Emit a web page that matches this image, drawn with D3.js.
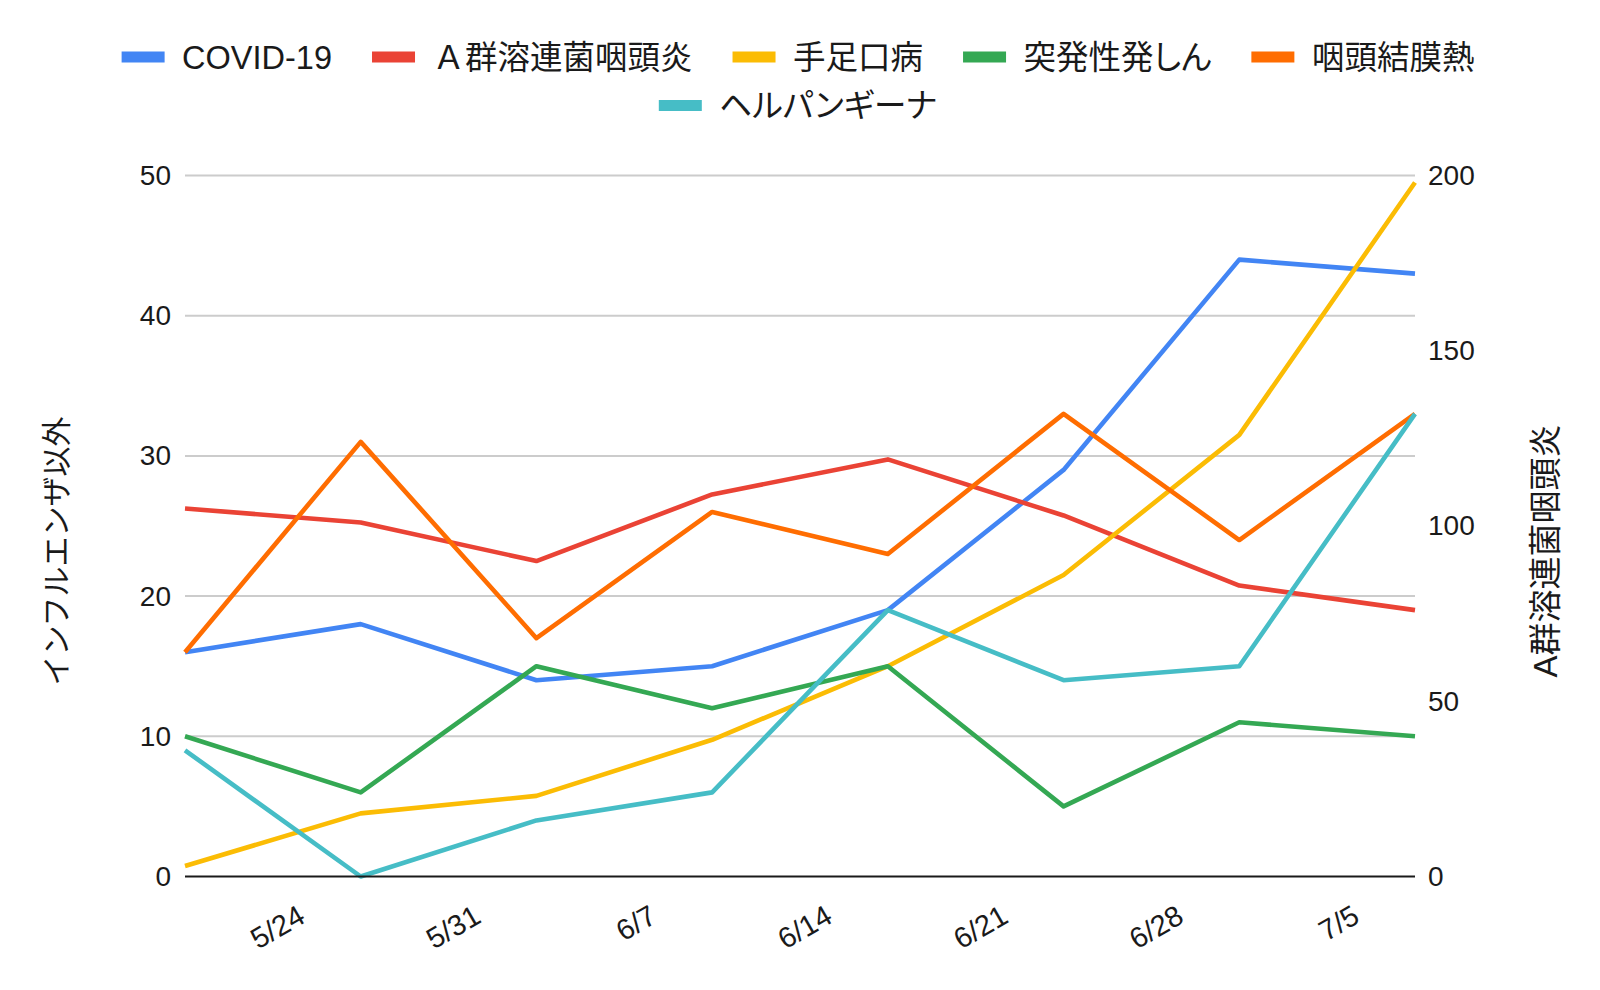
<!DOCTYPE html>
<html>
<head>
<meta charset="utf-8">
<script src="https://cdn.jsdelivr.net/npm/d3@7"></script>
<style>
  html, body { margin: 0; padding: 0; background: #fff; }
  svg { display: block; font-family: "Liberation Sans", Arial, "Noto Sans CJK JP", sans-serif; }
  .kana { font-feature-settings: "palt"; }
</style>
</head>
<body>
<div id="chart"></div>
<script>
// weekly dates of the data points
const dates = ['2023-05-19', '2023-05-26', '2023-06-02', '2023-06-09', '2023-06-16', '2023-06-23', '2023-06-30', '2023-07-07'];
const tickDates = ['2023-05-24', '2023-05-31', '2023-06-07', '2023-06-14', '2023-06-21', '2023-06-28', '2023-07-05'];

// left axis series
const covid = [16, 18, 14, 15, 19, 29, 44, 43];
const toppatsu = [10, 6, 15, 12, 15, 5, 11, 10];
const intoketsumaku = [16, 31, 17, 26, 23, 33, 24, 33];
const herpangina = [9, 0, 4, 6, 19, 14, 15, 33];
// right axis series
const strepA = [105, 101, 90, 109, 119, 103, 83, 76];
const teashikuchi = [3, 18, 23, 39, 60, 86, 126, 198];

const leftTicks = [0, 10, 20, 30, 40, 50];
const rightTicks = [0, 50, 100, 150, 200];

const series = [
  { name: 'COVID-19', values: covid, axis: 'left', color: '#4285F4' },
  { name: 'Ａ群溶連菌咽頭炎', values: strepA, axis: 'right', color: '#EA4335' },
  { name: '手足口病', values: teashikuchi, axis: 'right', color: '#FBBC04' },
  { name: '突発性発しん', values: toppatsu, axis: 'left', color: '#34A853', kana: true },
  { name: '咽頭結膜熱', values: intoketsumaku, axis: 'left', color: '#FF6D01' },
  { name: 'ヘルパンギーナ', values: herpangina, axis: 'left', color: '#46BDC6', kana: true }
];

const W = 1600, H = 990;
const plot = { left: 185, right: 1415, top: 175.5, bottom: 876.5 };
const ink = '#1a1a1a';

const svg = d3.select('#chart').append('svg')
  .attr('width', W).attr('height', H);

const parse = d3.utcParse('%Y-%m-%d');

const x = d3.scaleUtc()
  .domain([parse(dates[0]), parse(dates[dates.length - 1])])
  .range([plot.left, plot.right]);

const yL = d3.scaleLinear().domain([0, 50]).range([plot.bottom, plot.top]);
const yR = d3.scaleLinear().domain([0, 200]).range([plot.bottom, plot.top]);

// gridlines
svg.append('g')
  .selectAll('line')
  .data(leftTicks.filter(d => d !== 0))
  .join('line')
  .attr('x1', plot.left).attr('x2', plot.right)
  .attr('y1', d => yL(d)).attr('y2', d => yL(d))
  .attr('stroke', '#cccccc')
  .attr('stroke-width', 2);

// left axis
const gL = svg.append('g')
  .attr('transform', `translate(${plot.left},0)`)
  .call(d3.axisLeft(yL).tickValues(leftTicks).tickSize(0).tickPadding(14));
gL.select('.domain').remove();
gL.selectAll('text').attr('font-size', 28).attr('fill', ink).attr('font-family', '"Liberation Sans", Arial, sans-serif');

// right axis
const gR = svg.append('g')
  .attr('transform', `translate(${plot.right},0)`)
  .call(d3.axisRight(yR).tickValues(rightTicks).tickSize(0).tickPadding(13));
gR.select('.domain').remove();
gR.selectAll('text').attr('font-size', 28).attr('fill', ink).attr('font-family', '"Liberation Sans", Arial, sans-serif');

// x axis labels (rotated)
const gX = svg.append('g')
  .attr('transform', `translate(0,${plot.bottom})`)
  .call(d3.axisBottom(x).tickValues(tickDates.map(parse)).tickFormat(d3.utcFormat('%-m/%-d')).tickSize(0));
gX.select('.domain').remove();
gX.selectAll('text')
  .attr('font-size', 29)
  .attr('fill', ink)
  .attr('font-family', '"Liberation Sans", Arial, sans-serif')
  .attr('text-anchor', 'end')
  .attr('dy', null)
  .attr('y', 0)
  .attr('transform', 'translate(-4,45) rotate(-30)');

// lines
const line = (s) => d3.line()
  .x((d, i) => x(parse(dates[i])))
  .y(d => (s.axis === 'left' ? yL(d) : yR(d)));

svg.append('g')
  .selectAll('path')
  .data(series)
  .join('path')
  .attr('fill', 'none')
  .attr('stroke', d => d.color)
  .attr('stroke-width', 4.6)
  .attr('stroke-linejoin', 'round')
  .attr('d', d => line(d)(d.values));

// baseline
svg.append('line')
  .attr('x1', plot.left).attr('x2', plot.right)
  .attr('y1', yL(0)).attr('y2', yL(0))
  .attr('stroke', ink)
  .attr('stroke-width', 2.2);

// axis titles
svg.append('text')
  .attr('transform', 'translate(67,551) rotate(-90)')
  .attr('text-anchor', 'middle')
  .attr('font-size', 30)
  .attr('fill', ink)
  .attr('font-family', '"Noto Sans CJK JP", sans-serif')
  .text('インフルエンザ以外');

svg.append('text')
  .attr('transform', 'translate(1557,551) rotate(-90)')
  .attr('text-anchor', 'middle')
  .attr('font-size', 33)
  .attr('fill', ink)
  .attr('font-family', '"Liberation Sans", Arial, "Noto Sans CJK JP", sans-serif')
  .text('A群溶連菌咽頭炎');

// legend
const rows = [series.slice(0, 5), series.slice(5)];
const rowY = [57, 105.5];
const swW = 43, swH = 11, swGap = 17.5, itemGap = 40, centerX = 798;

rows.forEach((items, r) => {
  const g = svg.append('g');
  let cx = 0;
  items.forEach(s => {
    g.append('rect')
      .attr('x', cx).attr('y', rowY[r] - swH / 2)
      .attr('width', swW).attr('height', swH)
      .attr('fill', s.color);
    const t = g.append('text')
      .attr('class', s.kana ? 'kana' : null)
      .attr('x', cx + swW + swGap).attr('y', rowY[r] + 11.5)
      .attr('font-size', 32.5)
      .attr('fill', ink)
      .text(s.name);
    cx += swW + swGap + t.node().getComputedTextLength() + itemGap;
  });
  const total = cx - itemGap;
  g.attr('transform', `translate(${centerX - total / 2},0)`);
});
</script>
</body>
</html>
